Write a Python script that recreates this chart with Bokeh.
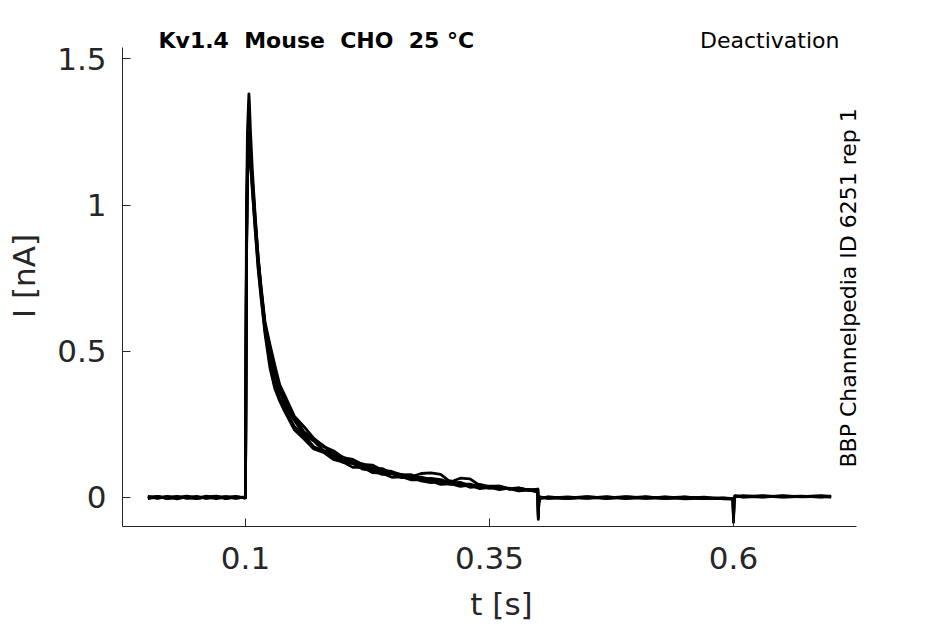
import math
from bokeh.plotting import figure
from bokeh.models import Range1d, FixedTicker, Label, ColumnDataSource
from bokeh.embed import file_html
from bokeh.resources import INLINE

# ---- data ----
t_pre = [0.000, 0.010, 0.020, 0.030, 0.040, 0.050, 0.060, 0.070, 0.080, 0.090, 0.0995]
t_pulse = [0.1000, 0.1005, 0.1010, 0.1020, 0.1030, 0.1035, 0.1040, 0.1050, 0.1070, 0.1100,
           0.1130, 0.1160, 0.1200, 0.1250, 0.1300, 0.1350, 0.1400, 0.1500, 0.1600, 0.1700,
           0.1800, 0.1900, 0.2000, 0.2100, 0.2200, 0.2300, 0.2400, 0.2500, 0.2600, 0.2700,
           0.2800, 0.2900, 0.3000, 0.3100, 0.3200, 0.3300, 0.3400, 0.3500, 0.3600, 0.3700,
           0.3800, 0.3900, 0.3995]
t_post = [0.4000, 0.4005, 0.4015, 0.4100, 0.4300, 0.4500, 0.4700, 0.4900, 0.5100, 0.5300,
          0.5500, 0.5700, 0.5900, 0.5995, 0.6000, 0.6005, 0.6015, 0.6100, 0.6300, 0.6500,
          0.6700, 0.6900, 0.7000]
time_s = t_pre + t_pulse + t_post

sweep_a = ([0.002, -0.003, 0.004, -0.002, 0.003, -0.004, 0.002, 0.005, -0.003, 0.001, 0.000] +
           [0.00, 0.52, 0.98, 1.25, 1.34, 1.38, 1.35, 1.26, 1.12, 0.96, 0.82, 0.71, 0.59,
            0.513, 0.432, 0.381, 0.332, 0.276, 0.224, 0.199, 0.177, 0.148, 0.138,
            0.118, 0.115, 0.100, 0.099, 0.082, 0.079, 0.066, 0.070, 0.061, 0.052,
            0.057, 0.046, 0.046, 0.036, 0.039, 0.039, 0.029, 0.031, 0.024, 0.028] +
           [-0.075, -0.02, -0.004, 0.002, -0.003, 0.001, -0.004, 0.002, -0.002, 0.001, -0.005,
            -0.002, -0.004, -0.006, -0.085, -0.02, 0.004, 0.006, 0.002, 0.005, 0.003, 0.006, 0.004])
sweep_b = ([-0.002, 0.003, -0.004, 0.002, -0.001, 0.004, -0.003, 0.001, 0.003, -0.002, 0.001] +
           [0.00, 0.46, 0.87, 1.15, 1.25, 1.24, 1.21, 1.16, 1.06, 0.92, 0.79, 0.69, 0.57,
            0.458, 0.399, 0.337, 0.305, 0.243, 0.212, 0.173, 0.158, 0.141, 0.120,
            0.116, 0.097, 0.093, 0.079, 0.081, 0.068, 0.070, 0.057, 0.051, 0.054,
            0.045, 0.048, 0.035, 0.038, 0.031, 0.035, 0.030, 0.023, 0.028, 0.021] +
           [-0.060, -0.015, 0.001, -0.002, 0.002, -0.003, 0.001, -0.002, 0.003, -0.004, 0.000,
            -0.003, -0.001, -0.004, -0.070, -0.015, 0.006, 0.002, 0.005, 0.001, 0.004, 0.002, 0.005])
sweep_c = ([0.004, -0.001, 0.002, -0.005, 0.003, 0.001, -0.002, 0.004, -0.004, 0.002, -0.001] +
           [0.00, 0.42, 0.82, 1.10, 1.20, 1.22, 1.21, 1.17, 1.08, 0.94, 0.81, 0.71, 0.59,
            0.494, 0.414, 0.366, 0.318, 0.264, 0.215, 0.193, 0.161, 0.150, 0.128,
            0.122, 0.104, 0.101, 0.087, 0.085, 0.072, 0.071, 0.082, 0.084, 0.079,
            0.053, 0.066, 0.064, 0.041, 0.034, 0.036, 0.029, 0.032, 0.025, 0.027] +
           [-0.070, -0.018, -0.002, 0.001, -0.001, 0.003, -0.002, 0.000, -0.003, 0.002, -0.002,
            0.001, -0.005, -0.003, -0.080, -0.018, 0.003, 0.004, 0.001, 0.006, 0.002, 0.004, 0.002])
sweep_d = ([-0.004, 0.002, 0.001, 0.004, -0.003, -0.002, 0.005, -0.001, 0.002, -0.003, 0.002] +
           [0.00, 0.40, 0.80, 1.08, 1.18, 1.20, 1.19, 1.15, 1.05, 0.91, 0.78, 0.68, 0.56,
            0.444, 0.373, 0.330, 0.295, 0.232, 0.200, 0.166, 0.154, 0.130, 0.121,
            0.103, 0.103, 0.085, 0.083, 0.069, 0.071, 0.060, 0.060, 0.057, 0.045,
            0.047, 0.038, 0.042, 0.030, 0.035, 0.027, 0.032, 0.023, 0.026, 0.018] +
           [-0.055, -0.012, 0.002, -0.003, 0.000, -0.002, 0.003, -0.004, 0.001, -0.001, 0.002,
            -0.004, -0.002, -0.005, -0.065, -0.012, 0.005, 0.001, 0.004, 0.003, 0.005, 0.001, 0.003])
sweep_e = ([0.001, 0.004, -0.003, 0.000, 0.005, -0.003, 0.001, -0.004, 0.001, 0.004, -0.002] +
           [0.00, 0.44, 0.84, 1.12, 1.22, 1.23, 1.22, 1.18, 1.09, 0.95, 0.82, 0.72, 0.60,
            0.524, 0.453, 0.386, 0.351, 0.278, 0.242, 0.202, 0.174, 0.160, 0.136,
            0.130, 0.113, 0.111, 0.093, 0.089, 0.077, 0.078, 0.063, 0.065, 0.061,
            0.050, 0.052, 0.040, 0.045, 0.037, 0.039, 0.030, 0.033, 0.025, 0.029] +
           [-0.065, -0.016, -0.001, 0.000, -0.004, 0.002, -0.001, 0.003, -0.001, -0.003, 0.001,
            -0.002, -0.003, -0.004, -0.075, -0.016, 0.004, 0.003, 0.006, 0.002, 0.003, 0.005, 0.001])
sweeps = [sweep_a, sweep_b, sweep_c, sweep_d, sweep_e]

x_ticks = [0.1, 0.35, 0.6]
x_tick_labels = ["0.1", "0.35", "0.6"]
y_ticks = [0, 0.5, 1, 1.5]
y_tick_labels = ["0", "0.5", "1", "1.5"]

title_text = "Kv1.4\u00a0 Mouse\u00a0 CHO\u00a0 25 °C"
protocol_text = "Deactivation"
side_text = "BBP Channelpedia ID 6251 rep 1"

# ---- figure ----
FONT = "DejaVu Sans"
AX = "#262626"
X_AXIS_SPAN = (-0.02602, 0.7260)
Y_AXIS_SPAN = (-0.09915, 1.5386)

p = figure(width=945, height=624, output_backend="svg", toolbar_location=None,
           x_range=Range1d(X_AXIS_SPAN[0], 0.75061), y_range=Range1d(Y_AXIS_SPAN[0], 1.6137),
           min_border_left=122, min_border_right=65, min_border_top=25, min_border_bottom=98)
p.outline_line_color = None
p.xgrid.visible = False
p.ygrid.visible = False
p.background_fill_color = "white"

for s in sweeps:
    assert len(s) == len(time_s)
    src = ColumnDataSource(dict(t=time_s, i=s))
    p.line("t", "i", source=src, line_color="black", line_width=2.8, line_join="round")

for ax, ticks, labels, span in ((p.xaxis, x_ticks, x_tick_labels, X_AXIS_SPAN),
                                (p.yaxis, y_ticks, y_tick_labels, Y_AXIS_SPAN)):
    ax.bounds = span
    ax.ticker = FixedTicker(ticks=ticks)
    ax.major_label_overrides = {tk: lb for tk, lb in zip(ticks, labels)}
    ax.minor_tick_line_color = None
    ax.major_tick_in = 8
    ax.major_tick_out = 0
    ax.axis_line_color = AX
    ax.major_tick_line_color = AX
    ax.major_label_text_color = AX
    ax.major_label_text_font = FONT
    ax.major_label_text_font_size = "31px"
    ax.axis_label_text_font = FONT
    ax.axis_label_text_font_size = "31px"
    ax.axis_label_text_font_style = "normal"
    ax.axis_label_text_color = AX

p.xaxis.axis_label = "t [s]"
p.yaxis.axis_label = "I [nA]"
p.xaxis.major_label_standoff = 20
p.yaxis.major_label_standoff = 16
p.xaxis.axis_label_standoff = 14
p.yaxis.axis_label_standoff = 12

p.add_layout(Label(x=0.0109, y=1.564, text=title_text, text_font=FONT, text_font_size="22px",
                   text_font_style="bold", text_color="black", text_baseline="alphabetic",
                   text_align="left"))
p.add_layout(Label(x=0.7086, y=1.564, text=protocol_text, text_font=FONT, text_font_size="22px",
                   text_color="black", text_baseline="alphabetic", text_align="right"))
p.add_layout(Label(x=0.7175, y=0.1026, text=side_text, text_font=FONT, text_font_size="22px",
                   text_color="black", text_baseline="alphabetic", text_align="left",
                   angle=math.pi / 2))

open("out.html", "w").write(file_html(p, INLINE))
